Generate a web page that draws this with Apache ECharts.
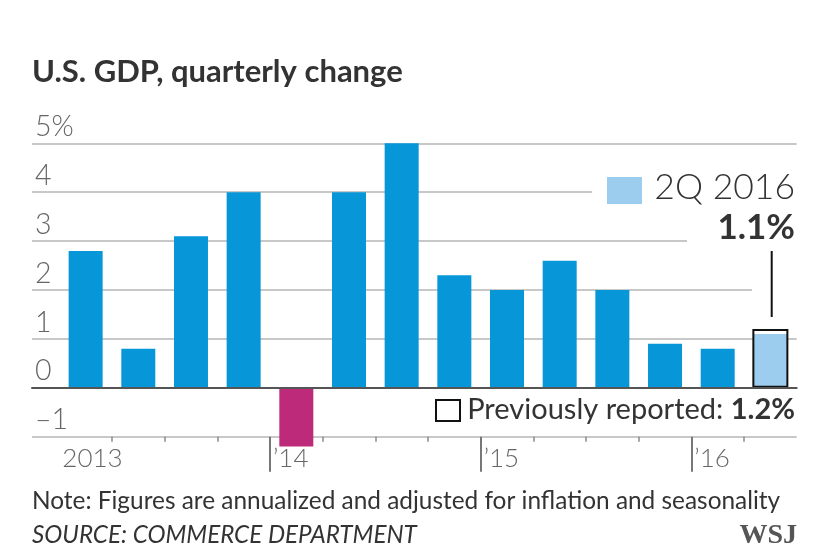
<!DOCTYPE html>
<html>
<head>
<meta charset="utf-8">
<script src="https://cdn.jsdelivr.net/npm/echarts@6/dist/echarts.min.js"></script>
<style>
  html, body { margin: 0; padding: 0; background: #fff; }
  #chart { width: 828px; height: 550px; }
</style>
</head>
<body>
<div id="chart"></div>
<script>
// ---- data ----
const quarters = ['1Q 2013', '2Q 2013', '3Q 2013', '4Q 2013',
                  '1Q 2014', '2Q 2014', '3Q 2014', '4Q 2014',
                  '1Q 2015', '2Q 2015', '3Q 2015', '4Q 2015',
                  '1Q 2016', '2Q 2016'];
const gdpChange = [2.8, 0.8, 3.1, 4.0, -1.2, 4.0, 5.0, 2.3, 2.0, 2.6, 2.0, 0.9, 0.8, 1.1];
const previouslyReported = 1.2;   // latest quarter, earlier estimate
// one entry per quarter boundary (15), year labels where a year starts
const boundaryLabels = ['2013', '', '', '', '\u201914', '', '', '', '\u201915', '', '', '', '\u201916', '', ''];
const yTickLabels = ['\u20131', '0', '1', '2', '3', '4', '5%'];
const yMin = -1, yMax = 5;

// ---- styles ----
const BLUE = '#0796d8', MAGENTA = '#bd2a79', LIGHT = '#9ccdee';
const FONT = 'Lato, "Open Sans", sans-serif';
const last = gdpChange.length - 1;

const barData = gdpChange.map((v, i) => ({
  value: v,
  itemStyle: { color: i === last ? LIGHT : (v < 0 ? MAGENTA : BLUE) }
}));
const prevData = gdpChange.map((v, i) => (i === last ? previouslyReported : '-'));

const chart = echarts.init(document.getElementById('chart'), null, { renderer: 'canvas' });

const gTop = 143.3, gH = 293.4;

chart.setOption({
  animation: false,
  backgroundColor: '#fff',
  grid: [
    { left: 32, width: 764.7, top: gTop, height: gH },
    { left: 59.3, width: 737.4, top: gTop, height: gH }
  ],
  yAxis: [
    {
      gridIndex: 0, type: 'value', min: yMin, max: yMax, interval: 1,
      axisLine: { show: false }, axisTick: { show: false },
      splitLine: { show: true, lineStyle: { color: '#b6b6b6', width: 1.6 } },
      axisLabel: {
        inside: true, margin: 3, verticalAlign: 'bottom', padding: [0, 0, 2, 0],
        color: '#666', fontFamily: FONT, fontWeight: 300, fontSize: 28.5,
        formatter: (v) => yTickLabels[Math.round(v - yMin)]
      }
    },
    { gridIndex: 1, type: 'value', min: yMin, max: yMax, interval: 1, show: false }
  ],
  xAxis: [
    { // zero line across the full width
      gridIndex: 0, type: 'category', data: [''], z: 5,
      axisLine: { show: true, onZero: true, lineStyle: { color: '#555', width: 2 } },
      axisTick: { show: false }, axisLabel: { show: false }, splitLine: { show: false }
    },
    { gridIndex: 1, type: 'category', data: quarters, show: false },
    { gridIndex: 1, type: 'category', data: quarters, show: false },
    { // minor quarter ticks
      gridIndex: 1, type: 'category', data: boundaryLabels, boundaryGap: false,
      position: 'bottom', axisLine: { show: false, onZero: false },
      axisTick: { show: true, length: 5, lineStyle: { color: '#8a8a8a', width: 1.5 },
        interval: (i, v) => i > 0 && i < boundaryLabels.length - 1 && v === '' },
      axisLabel: { show: false }, splitLine: { show: false }
    },
    { // year ticks + labels
      gridIndex: 1, type: 'category', data: boundaryLabels, boundaryGap: false,
      position: 'bottom', axisLine: { show: false, onZero: false },
      axisTick: { show: true, length: 35, lineStyle: { color: '#777', width: 2 },
        interval: (i, v) => i > 0 && v !== '' },
      axisLabel: {
        show: true, interval: (i, v) => v !== '', align: 'left', padding: [0, 0, 0, 3],
        margin: 9, color: '#666', fontFamily: FONT, fontWeight: 300, fontSize: 26
      },
      splitLine: { show: false }
    }
  ],
  series: [
    {
      type: 'bar', xAxisIndex: 1, yAxisIndex: 1, data: barData, barWidth: 34, z: 2, clip: false
    },
    {
      type: 'bar', xAxisIndex: 2, yAxisIndex: 1, data: prevData, barWidth: 36, z: 3, clip: false,
      itemStyle: { color: 'rgba(0,0,0,0)', borderColor: '#111', borderWidth: 2 }
    }
  ],
  graphic: [
    // breaks in the grid lines behind the annotation
    { type: 'rect', z: 50, shape: { x: 592, y: 184, width: 210, height: 17 }, style: { fill: '#fff' } },
    { type: 'rect', z: 50, shape: { x: 687, y: 234, width: 115, height: 16 }, style: { fill: '#fff' } },
    { type: 'rect', z: 50, shape: { x: 752, y: 283, width: 50, height: 14 }, style: { fill: '#fff' } },
    // title
    { type: 'text', z: 60, left: 32, top: 56,
      style: { text: 'U.S. GDP, quarterly change', fill: '#333', font: 'bold 31px ' + FONT } },
    // latest quarter annotation
    { type: 'rect', z: 60, shape: { x: 607, y: 177, width: 35, height: 27 }, style: { fill: LIGHT } },
    { type: 'text', z: 60, right: 33, top: 170,
      style: { text: '2Q 2016', fill: '#333', font: '300 35.5px ' + FONT } },
    { type: 'text', z: 60, right: 33, top: 210,
      style: { text: '1.1%', fill: '#333', font: 'bold 35px ' + FONT } },
    { type: 'line', z: 60, shape: { x1: 771.7, y1: 251, x2: 771.7, y2: 317 },
      style: { stroke: '#111', lineWidth: 2 } },
    // previously reported
    { type: 'rect', z: 60, shape: { x: 436, y: 400, width: 24, height: 21 },
      style: { fill: '#fff', stroke: '#111', lineWidth: 2 } },
    { type: 'text', z: 60, right: 33, top: 395,
      style: {
        text: '{a|Previously reported: }{b|1.2%}',
        rich: {
          a: { fill: '#333', fontFamily: FONT, fontSize: 29, fontWeight: 400 },
          b: { fill: '#333', fontFamily: FONT, fontSize: 29, fontWeight: 'bold' }
        }
      } },
    // footer
    { type: 'text', z: 60, left: 32, top: 489,
      style: { text: 'Note: Figures are annualized and adjusted for inflation and seasonality',
               fill: '#333', font: '24.4px ' + FONT } },
    { type: 'text', z: 60, left: 32, top: 523,
      style: { text: 'SOURCE: COMMERCE DEPARTMENT', fill: '#333', font: 'italic 24.2px ' + FONT } },
    { type: 'text', z: 60, right: 31, top: 522,
      style: { text: 'WSJ', fill: '#555', font: 'bold 28px "Liberation Serif", "DejaVu Serif", serif' } }
  ]
});
</script>
</body>
</html>
